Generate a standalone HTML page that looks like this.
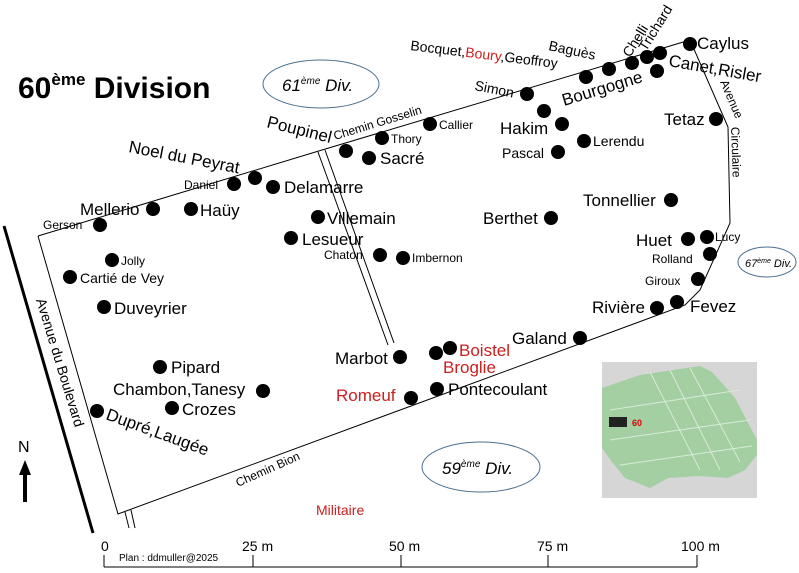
<!DOCTYPE html>
<html><head><meta charset="utf-8"><style>
html,body{margin:0;padding:0;background:#fff;}
svg{display:block;font-family:"Liberation Sans",sans-serif;}
.b{font-size:17px;fill:#000}
.m{font-size:14px;fill:#000}
.s{font-size:12px;fill:#000}
.r{fill:#cc1f1f}
</style></head><body>
<svg width="799" height="573" viewBox="0 0 799 573" xmlns="http://www.w3.org/2000/svg">
<rect width="799" height="573" fill="#fff"/>
<!-- title -->
<text x="18" y="98" font-size="30" font-weight="bold">60<tspan font-size="17" dy="-13">ème</tspan><tspan dy="13"> Division</tspan></text>
<!-- ellipses -->
<ellipse cx="321" cy="84" rx="58" ry="24" fill="none" stroke="#4a6f8f" stroke-width="1"/>
<text x="282" y="91" font-size="17" font-style="italic">61<tspan font-size="10" dy="-7">ème</tspan><tspan dy="7"> Div.</tspan></text>
<ellipse cx="767" cy="262" rx="29" ry="15" fill="none" stroke="#4a6f8f"/>
<text x="745" y="267" font-size="11" font-style="italic">67<tspan font-size="7" dy="-4">ème</tspan><tspan dy="4"> Div.</tspan></text>
<ellipse cx="481" cy="467" rx="59" ry="25" fill="none" stroke="#4a6f8f"/>
<text x="442" y="474" font-size="17" font-style="italic">59<tspan font-size="10" dy="-7">ème</tspan><tspan dy="7"> Div.</tspan></text>
<!-- outline -->
<polyline points="38,236 322,150 690,40 728,127 730,223 700,290 685,305 118,514 38,236" fill="none" stroke="#000" stroke-width="1"/>
<!-- double roads -->
<line x1="318" y1="152" x2="388" y2="345" stroke="#000"/>
<line x1="325" y1="150" x2="394" y2="343" stroke="#000"/>
<line x1="125" y1="512" x2="129" y2="528" stroke="#000"/>
<line x1="131" y1="510" x2="135" y2="528" stroke="#000"/>
<!-- avenue du boulevard -->
<line x1="4" y1="226" x2="93" y2="533" stroke="#000" stroke-width="3"/>
<text transform="translate(36,300) rotate(73)" class="m">Avenue du Boulevard</text>
<!-- N arrow -->
<text x="18" y="452" font-size="16">N</text>
<line x1="25" y1="470" x2="25" y2="502" stroke="#000" stroke-width="4"/>
<polygon points="25,460 19,475 31,475" fill="#000"/>
<!-- road labels -->
<text transform="translate(335,140) rotate(-17)" class="s">Chemin Gosselin</text>
<text transform="translate(238,487) rotate(-24)" class="s">Chemin Bion</text>
<text transform="translate(720,82) rotate(67)" class="s">Avenue</text>
<text transform="translate(731,127) rotate(88)" class="s">Circulaire</text>
<!-- dots -->
<g fill="#000">
<circle cx="100" cy="225" r="7"/><circle cx="153" cy="209" r="7"/><circle cx="191" cy="209" r="7"/>
<circle cx="234" cy="184" r="7"/><circle cx="255" cy="178" r="7"/><circle cx="273" cy="187" r="7"/>
<circle cx="346" cy="151" r="7"/><circle cx="382" cy="138" r="7"/><circle cx="369" cy="158" r="7"/>
<circle cx="430" cy="124" r="7"/><circle cx="318" cy="217" r="7"/><circle cx="291" cy="238" r="7"/>
<circle cx="380" cy="255" r="7"/><circle cx="403" cy="258" r="7"/><circle cx="112" cy="260" r="7"/>
<circle cx="70" cy="277" r="7"/><circle cx="104" cy="307" r="7"/><circle cx="160" cy="367" r="7"/>
<circle cx="263" cy="391" r="7"/><circle cx="172" cy="408" r="7"/><circle cx="97" cy="411" r="7"/>
<circle cx="400" cy="357" r="7"/><circle cx="436" cy="353" r="7"/><circle cx="450" cy="348" r="7"/>
<circle cx="411" cy="398" r="7"/><circle cx="437" cy="389" r="7"/><circle cx="580" cy="338" r="7"/>
<circle cx="527" cy="94" r="7"/><circle cx="544" cy="111" r="7"/><circle cx="562" cy="124" r="7"/>
<circle cx="584" cy="141" r="7"/><circle cx="558" cy="152" r="7"/><circle cx="586" cy="77" r="7"/>
<circle cx="609" cy="69" r="7"/><circle cx="632" cy="63" r="7"/><circle cx="647" cy="57" r="7"/>
<circle cx="660" cy="53" r="7"/><circle cx="657" cy="71" r="7"/><circle cx="690" cy="44" r="7"/>
<circle cx="716" cy="119" r="7"/><circle cx="671" cy="200" r="7"/><circle cx="551" cy="218" r="7"/>
<circle cx="688" cy="239" r="7"/><circle cx="707" cy="237" r="7"/><circle cx="710" cy="254" r="7"/>
<circle cx="698" cy="279" r="7"/><circle cx="657" cy="308" r="7"/><circle cx="677" cy="302" r="7"/>
</g>
<!-- labels -->
<text x="43" y="229" class="s">Gerson</text>
<text x="80" y="215" class="b" font-size="16">Mellerio</text>
<text x="200" y="216" class="b" font-size="16">Haüy</text>
<text x="184" y="189" class="s">Daniel</text>
<text transform="translate(128,152) rotate(11)" class="b" font-size="16">Noel du Peyrat</text>
<text x="284" y="193" class="b" font-size="16">Delamarre</text>
<text transform="translate(266,127) rotate(14)" class="b" font-size="16">Poupinel</text>
<text x="391" y="143" class="s">Thory</text>
<text x="380" y="164" class="b" font-size="16">Sacré</text>
<text x="439" y="129" class="s">Callier</text>
<text x="327" y="224" class="b" font-size="16">Villemain</text>
<text x="302" y="245" class="b" font-size="16">Lesueur</text>
<text x="324" y="259" class="s">Chaton</text>
<text x="412" y="262" class="s">Imbernon</text>
<text x="121" y="265" class="s">Jolly</text>
<text x="80" y="283" class="m">Cartié de Vey</text>
<text x="114" y="314" class="b" font-size="16">Duveyrier</text>
<text x="171" y="373" class="b" font-size="16">Pipard</text>
<text x="113" y="395" class="b" font-size="16">Chambon,Tanesy</text>
<text x="182" y="415" class="b" font-size="16">Crozes</text>
<text transform="translate(105,419) rotate(20)" class="b" font-size="16">Dupré,Laugée</text>
<text x="335" y="364" class="b" font-size="16">Marbot</text>
<text x="459" y="356" class="b r" font-size="16">Boistel</text>
<text x="443" y="373" class="b r" font-size="16">Broglie</text>
<text x="336" y="401" class="b r" font-size="16">Romeuf</text>
<text x="448" y="395" class="b" font-size="16">Pontecoulant</text>
<text x="512" y="344" class="b" font-size="16">Galand</text>
<text x="316" y="515" class="m r">Militaire</text>
<text transform="translate(410,50) rotate(7)" class="m">Bocquet,<tspan class="r">Boury</tspan>,Geoffroy</text>
<text transform="translate(474,90) rotate(11)" class="m">Simon</text>
<text x="500" y="134" class="b" font-size="17">Hakim</text>
<text x="593" y="146" class="m">Lerendu</text>
<text x="502" y="158" class="m">Pascal</text>
<text transform="translate(548,50) rotate(12)" class="m">Baguès</text>
<text transform="translate(630,58) rotate(-58)" class="m">Chelli</text>
<text transform="translate(646,52) rotate(-58)" class="m">Trichard</text>
<text transform="translate(564,106) rotate(-17)" class="b" font-size="17">Bourgogne</text>
<text x="697" y="49" class="b" font-size="16">Caylus</text>
<text transform="translate(668,66) rotate(10)" class="b" font-size="17">Canet,Risler</text>
<text x="664" y="125" class="b" font-size="16">Tetaz</text>
<text x="583" y="206" class="b" font-size="16">Tonnellier</text>
<text x="483" y="224" class="b" font-size="16">Berthet</text>
<text x="636" y="246" class="b" font-size="16">Huet</text>
<text x="715" y="241" class="s">Lucy</text>
<text x="652" y="263" class="s">Rolland</text>
<text x="645" y="285" class="s">Giroux</text>
<text x="592" y="313" class="b" font-size="16">Rivière</text>
<text x="690" y="312" class="b" font-size="16">Fevez</text>
<!-- inset map -->
<rect x="602" y="362" width="155" height="136" fill="#d6d6d6"/>
<path d="M602,388 L640,375 L700,366 L712,372 L735,398 L757,440 L757,455 L745,470 L728,478 L700,476 L668,478 L650,488 L625,478 L612,462 L602,448 Z" fill="#a3cfa3"/>
<g stroke="#d8ecd8" stroke-width="1" fill="none">
<line x1="650" y1="372" x2="700" y2="470"/><line x1="670" y1="370" x2="720" y2="470"/><line x1="690" y1="368" x2="740" y2="462"/>
<line x1="610" y1="410" x2="740" y2="390"/><line x1="610" y1="440" x2="750" y2="420"/><line x1="620" y1="465" x2="752" y2="446"/>
</g>
<rect x="609" y="417" width="18" height="10" fill="#222"/>
<text x="632" y="426" font-size="9" font-weight="bold" fill="#d00">60</text>
<!-- scale -->
<line x1="104" y1="567" x2="697" y2="567" stroke="#000"/>
<g stroke="#000"><line x1="104" y1="555" x2="104" y2="567"/><line x1="253" y1="555" x2="253" y2="567"/><line x1="401" y1="555" x2="401" y2="567"/><line x1="548" y1="555" x2="548" y2="567"/><line x1="697" y1="555" x2="697" y2="567"/></g>
<g font-size="14"><text x="101" y="551">0</text><text x="242" y="551">25 m</text><text x="389" y="551">50 m</text><text x="537" y="551">75 m</text><text x="681" y="551">100 m</text></g>
<text x="119" y="561" font-size="10">Plan : ddmuller@2025</text>
</svg>
</body></html>
